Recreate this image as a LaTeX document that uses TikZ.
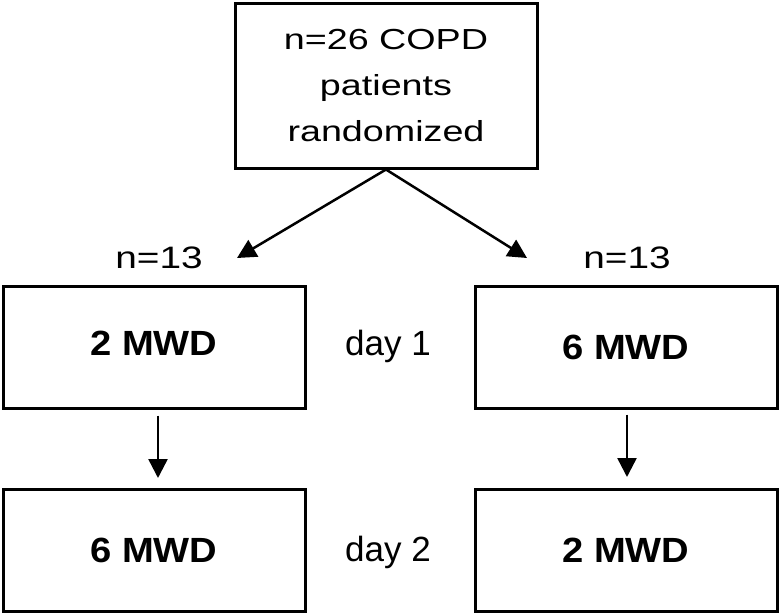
\documentclass[tikz,border=0pt]{standalone}
\usepackage{fontspec}
\setmainfont{Liberation Sans}
\newfontfamily\topfont[FakeStretch=1.3]{Liberation Sans}
\newfontfamily\nfont[FakeStretch=1.25]{Liberation Sans}
\newfontfamily\mwdfont[FakeStretch=1.09]{Liberation Sans}
\usetikzlibrary{arrows.meta}
\begin{document}
\begin{tikzpicture}[x=1pt,y=-1pt,
  box/.style={draw=black,line width=3pt,inner sep=0pt,minimum width=302pt,minimum height=122pt,align=center},
  mwd/.style={box,font=\mwdfont\bfseries\fontsize{35}{40}\selectfont},
  nlbl/.style={inner sep=0pt,font=\nfont\fontsize{31}{36}\selectfont},
  dlbl/.style={inner sep=0pt,font=\fontsize{35}{40}\selectfont},
  arr/.style={line width=2.5pt,-{Triangle[length=19pt,width=19pt]}}]
\useasboundingbox (0,0) rectangle (780,616);
\fill[white] (0,0) rectangle (780,616);
\node[box,minimum height=165pt,font=\topfont\fontsize{29}{46}\selectfont] (top) at (386,85.5) {n=26 COPD\\patients\\randomized};
\node[mwd] (l1) at (154,347) {\raisebox{7pt}{2 MWD}};
\node[mwd] (r1) at (626,347) {\raisebox{-5pt}{6 MWD}};
\node[mwd] (l2) at (154,550.5) {\raisebox{-5pt}{6 MWD}};
\node[mwd] (r2) at (626,550.5) {\raisebox{-5pt}{2 MWD}};
\node[nlbl] (n1) at (159,258) {n=13};
\node[nlbl] (n2) at (627,258) {n=13};
\node[dlbl] (d1) at (388,346) {day 1};
\node[dlbl] (d2) at (388,552) {day 2};
\coordinate (tl) at (237,258);
\coordinate (tr) at (527,258);
\draw[arr] (top.south) -- (tl);
\draw[arr] (top.south) -- (tr);
\draw[arr] ([yshift=-6pt]l1.south -| 158,0) -- (158,478);
\draw[arr] ([yshift=-5pt]r1.south -| 627,0) -- (627,477);
\end{tikzpicture}
\end{document}
